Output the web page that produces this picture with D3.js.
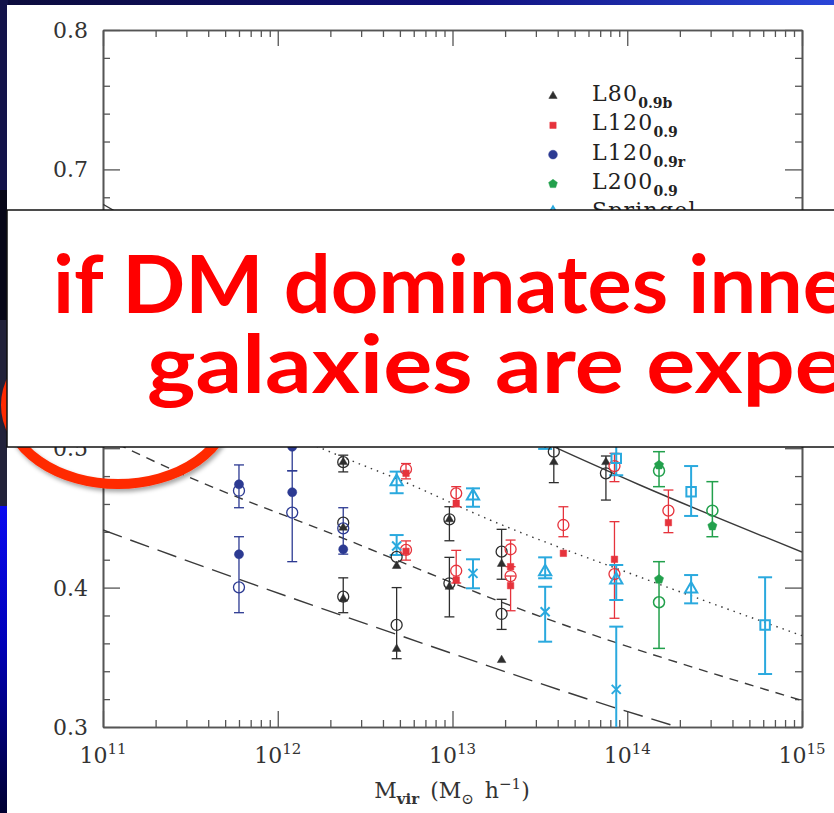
<!DOCTYPE html>
<html>
<head>
<meta charset="utf-8">
<script src="https://cdn.jsdelivr.net/npm/d3@7"></script>
<style>
  body { margin: 0; background: #0a0a34; overflow: hidden; }
  svg { display: block; }
</style>
</head>
<body>
<svg id="chart" width="834" height="813"></svg>
<script>
// ---- data: [Mvir (Msun/h), value, errLow, errHigh] ----
const l80Tri = [[2.37e12, 0.490], [2.37e12, 0.443], [2.37e12, 0.392], [4.79e12, 0.4155], [4.79e12, 0.356],
  [9.6e12, 0.449], [9.6e12, 0.4006], [1.91e13, 0.417], [1.91e13, 0.348], [3.8e13, 0.490], [7.55e13, 0.490]];
const l80Open = [[2.37e12, 0.490, 0.483, 0.495], [2.37e12, 0.4466], [2.37e12, 0.3935, 0.382, 0.407],
  [4.79e12, 0.422], [4.79e12, 0.3732, 0.349, 0.400], [9.6e12, 0.449, 0.4336, 0.458], [9.6e12, 0.4031, 0.379, 0.4217],
  [1.91e13, 0.4258, 0.406, 0.4418], [1.91e13, 0.3811, 0.37, 0.3916], [3.8e13, 0.4975, 0.4753, 0.52],
  [7.55e13, 0.482, 0.4628, 0.4944]];
const l120Sq = [[5.42e12, 0.482], [5.42e12, 0.426], [1.05e13, 0.4605], [1.05e13, 0.4055], [2.15e13, 0.415],
  [2.15e13, 0.4014], [4.31e13, 0.4246], [8.45e13, 0.4203], [1.72e14, 0.4466]];
const l120Open = [[5.42e12, 0.4849, 0.478, 0.489], [5.42e12, 0.427, 0.4197, 0.4335], [1.05e13, 0.4676, 0.458, 0.4724],
  [1.05e13, 0.4121, 0.4033, 0.4267], [2.15e13, 0.4275, 0.415, 0.4341], [2.15e13, 0.4083, 0.3834, 0.4083],
  [4.31e13, 0.4449, 0.4365, 0.458], [8.45e13, 0.4872, 0.476, 0.4963], [8.45e13, 0.4097, 0.378, 0.4473],
  [1.72e14, 0.4552, 0.4394, 0.47]];
const l120rFilled = [[6.0e11, 0.4741], [6.0e11, 0.4239], [1.21e12, 0.501, 0.4838, 0.52], [1.21e12, 0.4684], [2.37e12, 0.4275]];
const l120rOpen = [[6.0e11, 0.4695, 0.4573, 0.488], [6.0e11, 0.4002, 0.382, 0.4365], [1.21e12, 0.4538, 0.4186, 0.4838],
  [2.37e12, 0.4425, 0.424, 0.4573]];
const l200Filled = [[1.52e14, 0.4879], [1.52e14, 0.406], [3.07e14, 0.4442]];
const l200Open = [[1.52e14, 0.4838, 0.4724, 0.4975], [1.52e14, 0.3895, 0.3564, 0.4186], [3.07e14, 0.4552, 0.4365, 0.476]];
const springelTri = [[4.79e12, 0.476, 0.4677, 0.4832], [1.31e13, 0.4657, 0.458, 0.4712], [3.39e13, 0.4114, 0.4067, 0.4217],
  [8.65e13, 0.4055, 0.3911, 0.4162], [2.32e14, 0.399, 0.3887, 0.409]];
const springelCross = [[4.79e12, 0.4298, 0.4234, 0.4377], [1.31e13, 0.4102, 0.3995, 0.4203],
  [3.39e13, 0.3827, 0.3612, 0.4006], [8.65e13, 0.327, 0.28, 0.372]];
const springelSq = [[3.39e13, 0.512, 0.4995, 0.525], [8.65e13, 0.4927, 0.4806, 0.505], [2.32e14, 0.4688, 0.4514, 0.4872],
  [6.15e14, 0.3732, 0.338, 0.4074]];

// model curves [Mvir, value]
const solidLine = [[1e11, 0.675], [3.96e13, 0.5], [1.18e14, 0.4736], [1e15, 0.4255]];
const dottedLine = [[1e11, 0.57], [2.59e12, 0.4915], [5.0e12, 0.4772], [1.64e13, 0.4485], [1.18e14, 0.4076], [1e15, 0.3655]];
const shortDashLine = [[1e11, 0.508], [2.75e11, 0.4822], [2.27e12, 0.4363], [2.34e13, 0.3854], [1e15, 0.319]];
const longDashLine = [[1e11, 0.4413], [2.75e11, 0.4212], [4.39e12, 0.3681], [8.28e13, 0.3143], [1.95e14, 0.3]];

const xExponents = [11, 12, 13, 14, 15];
const yTicks = [0.3, 0.4, 0.5, 0.6, 0.7, 0.8];
const legendLabels = [["L80", "0.9b"], ["L120", "0.9"], ["L120", "0.9r"], ["L200", "0.9"], ["Springel", ""]];

const line1 = "if DM dominates inner";
const line2 = "galaxies are expected";

// ---- layout ----
const svg = d3.select('#chart');
const L = 103, R = 802, T = 30, B = 727;
const serif = '"DejaVu Serif", serif';
const axisCol = '#555';

const defs = svg.append('defs');
const topGrad = defs.append('linearGradient').attr('id', 'topGrad');
topGrad.append('stop').attr('offset', '0%').attr('stop-color', '#0c0c3c');
topGrad.append('stop').attr('offset', '55%').attr('stop-color', '#10107a');
topGrad.append('stop').attr('offset', '100%').attr('stop-color', '#2a46d8');
const leftGrad = defs.append('linearGradient').attr('id', 'leftGrad').attr('x1', 0).attr('x2', 0).attr('y1', 0).attr('y2', 1);
leftGrad.append('stop').attr('offset', '0%').attr('stop-color', '#0a0af0');
leftGrad.append('stop').attr('offset', '45%').attr('stop-color', '#0000b8');
leftGrad.append('stop').attr('offset', '100%').attr('stop-color', '#000030');
const shadow = defs.append('filter').attr('id', 'shadow').attr('x', '-20%').attr('y', '-20%').attr('width', '140%').attr('height', '140%');
shadow.append('feDropShadow').attr('dx', 2).attr('dy', 3).attr('stdDeviation', 2).attr('flood-color', '#000').attr('flood-opacity', 0.35);
defs.append('clipPath').attr('id', 'plotClip').append('rect')
  .attr('x', L).attr('y', T).attr('width', R - L).attr('height', B - T);

// slide background
svg.append('rect').attr('width', 834).attr('height', 813).attr('fill', '#0c0c36');
svg.append('rect').attr('width', 834).attr('height', 6).attr('fill', 'url(#topGrad)');
svg.append('rect').attr('x', 0).attr('y', 0).attr('width', 8).attr('height', 190).attr('fill', '#13134a');
svg.append('rect').attr('x', 0).attr('y', 190).attr('width', 8).attr('height', 130).attr('fill', '#070718');
svg.append('rect').attr('x', 0).attr('y', 320).attr('width', 8).attr('height', 186).attr('fill', '#22223a');
svg.append('rect').attr('x', 0).attr('y', 506).attr('width', 8).attr('height', 307).attr('fill', 'url(#leftGrad)');
svg.append('rect').attr('x', 7).attr('y', 5).attr('width', 827).attr('height', 808).attr('fill', '#fff');

// scales
const x = d3.scaleLog().domain([1e11, 1e15]).range([L, R]);
const y = d3.scaleLinear().domain([0.3, 0.8]).range([B, T]);

const majorX = xExponents.map(e => Math.pow(10, e));
const minorX = d3.range(11, 15).flatMap(e => d3.range(2, 10).map(k => k * Math.pow(10, e)));
const minorY = d3.range(0.3, 0.8001, 0.02).map(v => +v.toFixed(2)).filter(v => !yTicks.some(t => Math.abs(t - v) < 1e-6));

function drawAxis(axis, tx, ty) {
  const g = svg.append('g').attr('transform', `translate(${tx},${ty})`).call(axis);
  g.select('.domain').attr('stroke', axisCol).attr('stroke-width', 1.6);
  g.selectAll('.tick line').attr('stroke', axisCol).attr('stroke-width', 1.3);
  g.selectAll('.tick text').remove();
  return g;
}
drawAxis(d3.axisBottom(x).tickValues(majorX).tickSize(-16).tickSizeOuter(0), 0, B);
drawAxis(d3.axisBottom(x).tickValues(minorX).tickSize(-7).tickSizeOuter(0), 0, B);
drawAxis(d3.axisTop(x).tickValues(majorX).tickSize(-16).tickSizeOuter(0), 0, T);
drawAxis(d3.axisTop(x).tickValues(minorX).tickSize(-7).tickSizeOuter(0), 0, T);
drawAxis(d3.axisLeft(y).tickValues(yTicks).tickSize(-17).tickSizeOuter(0), L, 0);
drawAxis(d3.axisLeft(y).tickValues(minorY).tickSize(-7).tickSizeOuter(0), L, 0);
drawAxis(d3.axisRight(y).tickValues(yTicks).tickSize(-17).tickSizeOuter(0), R, 0);
drawAxis(d3.axisRight(y).tickValues(minorY).tickSize(-7).tickSizeOuter(0), R, 0);

// tick labels
svg.append('g').selectAll('text').data(yTicks).join('text')
  .attr('x', 88).attr('y', d => y(d) + 8)
  .attr('text-anchor', 'end').attr('font-family', serif).attr('font-size', 22).attr('fill', '#333')
  .text(d3.format('.1f'));
const xl = svg.append('g').selectAll('text').data(xExponents).join('text')
  .attr('x', e => x(Math.pow(10, e))).attr('y', 763)
  .attr('text-anchor', 'middle').attr('font-family', serif).attr('font-size', 22).attr('fill', '#333')
  .text('10');
xl.append('tspan').attr('dy', -9).attr('font-size', 15).text(e => e);

const title = svg.append('text').attr('x', 452).attr('y', 798).attr('text-anchor', 'middle')
  .attr('font-family', serif).attr('font-size', 22).attr('fill', '#333');
title.append('tspan').text('M');
title.append('tspan').attr('dy', 6).attr('font-size', 15).attr('font-weight', 'bold').text('vir');
title.append('tspan').attr('dy', -6).text('\u2002(M');
title.append('tspan').attr('dy', 6).attr('font-size', 15).text('\u2299');
title.append('tspan').attr('dy', -6).text('\u2002h');
title.append('tspan').attr('dy', -9).attr('font-size', 15).text('\u22121');
title.append('tspan').attr('dy', 9).text(')');

// model lines
const plot = svg.append('g').attr('clip-path', 'url(#plotClip)');
const lineGen = d3.line().x(d => x(d[0])).y(d => y(d[1])).curve(d3.curveMonotoneX);
[[solidLine, null], [dottedLine, '1.5,5'], [shortDashLine, '9,7'], [longDashLine, '20,9']].forEach(([data, dash]) => {
  plot.append('path').datum(data).attr('d', lineGen)
    .attr('fill', 'none').attr('stroke', '#3a3a3a').attr('stroke-width', 1.4)
    .attr('stroke-dasharray', dash);
});

// markers
const symbolPentagon = {
  draw(ctx, size) {
    const r = Math.sqrt(size / 2.378);
    for (let i = 0; i < 5; i++) {
      const a = -Math.PI / 2 + i * 2 * Math.PI / 5;
      if (i) ctx.lineTo(r * Math.cos(a), r * Math.sin(a)); else ctx.moveTo(r * Math.cos(a), r * Math.sin(a));
    }
    ctx.closePath();
  }
};
const cBlack = '#2e2e2e', cRed = '#e6333c', cBlue = '#2c3a92', cGreen = '#22a04c', cCyan = '#2aa9de';
const series = [
  { data: l80Open, color: cBlack, type: d3.symbolCircle, size: 95, filled: false, cap: 5, w: 1.3 },
  { data: l80Tri, color: cBlack, type: d3.symbolTriangle, size: 32, filled: true, cap: 5, w: 1.3 },
  { data: l120rOpen, color: cBlue, type: d3.symbolCircle, size: 95, filled: false, cap: 5, w: 1.3 },
  { data: l120rFilled, color: cBlue, type: d3.symbolCircle, size: 65, filled: true, cap: 5, w: 1.3 },
  { data: l120Open, color: cRed, type: d3.symbolCircle, size: 95, filled: false, cap: 5, w: 1.3 },
  { data: l120Sq, color: cRed, type: d3.symbolSquare, size: 42, filled: true, cap: 5, w: 1.3 },
  { data: l200Open, color: cGreen, type: d3.symbolCircle, size: 95, filled: false, cap: 6, w: 1.5 },
  { data: l200Filled, color: cGreen, type: symbolPentagon, size: 55, filled: true, cap: 6, w: 1.5 },
  { data: springelTri, color: cCyan, type: d3.symbolTriangle, size: 65, filled: false, cap: 7, w: 2 },
  { data: springelCross, color: cCyan, type: d3.symbolX, size: 55, filled: false, cap: 7, w: 2 },
  { data: springelSq, color: cCyan, type: d3.symbolSquare, size: 90, filled: false, cap: 7, w: 2 }
];

series.forEach(s => {
  const withErr = s.data.filter(d => d.length > 2);
  const eg = plot.append('g').attr('stroke', s.color).attr('stroke-width', s.w);
  eg.selectAll('line.bar').data(withErr).join('line').attr('class', 'bar')
    .attr('x1', d => x(d[0])).attr('x2', d => x(d[0])).attr('y1', d => y(d[2])).attr('y2', d => y(d[3]));
  eg.selectAll('line.lo').data(withErr).join('line').attr('class', 'lo')
    .attr('x1', d => x(d[0]) - s.cap).attr('x2', d => x(d[0]) + s.cap).attr('y1', d => y(d[2])).attr('y2', d => y(d[2]));
  eg.selectAll('line.hi').data(withErr).join('line').attr('class', 'hi')
    .attr('x1', d => x(d[0]) - s.cap).attr('x2', d => x(d[0]) + s.cap).attr('y1', d => y(d[3])).attr('y2', d => y(d[3]));
});
series.forEach(s => {
  plot.append('g').selectAll('path').data(s.data).join('path')
    .attr('transform', d => `translate(${x(d[0])},${y(d[1])})`)
    .attr('d', d3.symbol().type(s.type).size(s.size))
    .attr('fill', s.filled ? s.color : 'none')
    .attr('stroke', s.color).attr('stroke-width', s.filled ? 0.5 : s.w);
});

// legend
const legendSym = [
  { type: d3.symbolTriangle, color: cBlack, size: 30 },
  { type: d3.symbolSquare, color: cRed, size: 40 },
  { type: d3.symbolCircle, color: cBlue, size: 60 },
  { type: symbolPentagon, color: cGreen, size: 50 },
  { type: d3.symbolTriangle, color: cCyan, size: 60 }
];
const lg = svg.append('g');
legendLabels.forEach((lab, i) => {
  const ly = 96 + i * 29.3;
  const sym = legendSym[i];
  lg.append('path').attr('transform', `translate(553,${ly})`)
    .attr('d', d3.symbol().type(sym.type).size(sym.size))
    .attr('fill', i < 4 ? sym.color : 'none').attr('stroke', sym.color).attr('stroke-width', i < 4 ? 0.5 : 2);
  const t = lg.append('text').attr('x', 592).attr('y', ly + 5)
    .attr('font-family', serif).attr('font-size', 22).attr('letter-spacing', 1.2).attr('fill', '#222')
    .text(lab[0]);
  if (lab[1]) t.append('tspan').attr('dy', 7).attr('font-size', 14).attr('font-weight', 'bold').attr('letter-spacing', 0).text(lab[1]);
});

// red highlight ellipse (sits under the callout box)
svg.append('ellipse').attr('cx', 118).attr('cy', 405).attr('rx', 112).attr('ry', 79)
  .attr('fill', 'none').attr('stroke', '#ff2a00').attr('stroke-width', 10).attr('filter', 'url(#shadow)');

// callout box
svg.append('rect').attr('x', 7).attr('y', 210).attr('width', 900).attr('height', 237)
  .attr('fill', '#fff').attr('stroke', '#111').attr('stroke-width', 1.5);

function redLine(str, x0, base, fitChars, fitWidth) {
  const t = svg.append('text').attr('x', x0).attr('y', base)
    .attr('font-family', 'Lato, "Open Sans", sans-serif').attr('font-weight', 700)
    .attr('font-size', 80).attr('fill', '#ff0000').text(str);
  const w = t.node().getSubStringLength(0, fitChars);
  const sx = fitWidth / w;
  t.attr('transform', `translate(${x0},0) scale(${sx},1) translate(${-x0},0)`);
}
redLine(line1, 53, 313, 19, 750);
redLine(line2, 147, 393, 16, 648);
</script>
</body>
</html>
